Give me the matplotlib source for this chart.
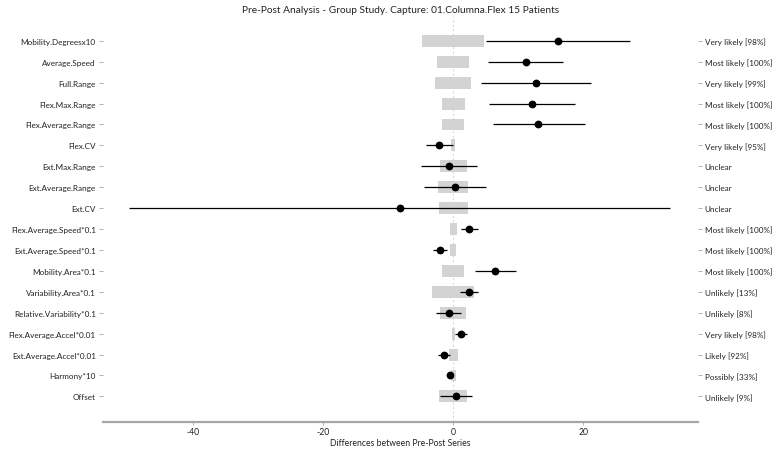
import matplotlib
matplotlib.use("Agg")
import matplotlib.pyplot as plt
import numpy as np

plt.rcParams['font.family'] = ['Lato', 'DejaVu Sans']

categories = ["Mobility.Degreesx10", "Average.Speed", "Full.Range", "Flex.Max.Range",
              "Flex.Average.Range", "Flex.CV", "Ext.Max.Range", "Ext.Average.Range", "Ext.CV",
              "Flex.Average.Speed*0.1", "Ext.Average.Speed*0.1", "Mobility.Area*0.1",
              "Variability.Area*0.1", "Relative.Variability*0.1", "Flex.Average.Accel*0.01",
              "Ext.Average.Accel*0.01", "Harmony*10", "Offset"]
swc = [4.75, 2.45, 2.75, 1.8, 1.72, 0.3, 2.1, 2.3, 2.2,
       0.53, 0.45, 1.72, 3.2, 2.0, 0.2, 0.7, 0.4, 2.15]
effect = [16.15, 11.2, 12.8, 12.15, 13.1, -2.15, -0.66, 0.3, -8.15,
          2.42, -2.0, 6.46, 2.36, -0.72, 1.23, -1.38, -0.45, 0.46]
ci_low = [5.1, 5.4, 4.2, 5.5, 6.1, -4.25, -4.97, -4.46, -49.85,
          1.13, -3.07, 3.3, 0.98, -2.67, 0.31, -2.3, -0.7, -2.1]
ci_high = [27.2, 16.9, 21.2, 18.7, 20.2, -0.1, 3.65, 5.03, 33.3,
           3.75, -1.03, 9.7, 3.85, 1.18, 2.15, -0.5, -0.2, 2.88]
outcomes = ["Very likely [98%]", "Most likely [100%]", "Very likely [99%]", "Most likely [100%]",
            "Most likely [100%]", "Very likely [95%]", "Unclear", "Unclear", "Unclear",
            "Most likely [100%]", "Most likely [100%]", "Most likely [100%]", "Unlikely [13%]",
            "Unlikely [8%]", "Very likely [98%]", "Likely [92%]", "Possibly [33%]", "Unlikely [9%]"]
x_ticks = [-40, -20, 0, 20]

fig = plt.figure(figsize=(7.77, 4.52), dpi=100)
ax = fig.add_axes([0.1322, 0.0648, 0.7658, 0.895])

n = len(categories)
y = np.arange(n)
sw = np.array(swc)
ax.barh(y, 2 * sw, left=-sw, height=0.57, color='#d3d3d3', zorder=1)
ax.axvline(0, color='#d9d9d9', lw=0.8, ls=(0, (2, 2)), zorder=0)
ax.hlines(y, ci_low, ci_high, color='black', lw=0.9, zorder=2)
ax.plot(effect, y, 'o', color='black', ms=4.6, zorder=3)

ax.set_xlim(-53.9, 37.6)
ax.set_ylim(18.21, -1.13)
ax.set_yticks(y)
ax.set_yticklabels(categories, fontsize=5.9, color='#222222')
ax.set_xticks(x_ticks)
ax.set_xticklabels([str(t) for t in x_ticks], fontsize=6.2, color='#222222')
ax.set_xlabel("Differences between Pre-Post Series", fontsize=6.2, color='#222222', labelpad=1)

for s in ['top', 'right', 'left']:
    ax.spines[s].set_visible(False)
ax.spines['bottom'].set_color('#a6a6a6')
ax.spines['bottom'].set_linewidth(1.6)
ax.tick_params(axis='y', length=3, width=0.6, color='#a6a6a6', pad=2)
ax.tick_params(axis='x', length=2, width=0.6, color='#a6a6a6', pad=2)

ax2 = ax.twinx()
ax2.set_ylim(ax.get_ylim())
ax2.set_yticks(y)
ax2.set_yticklabels(outcomes, fontsize=5.9, color='#222222')
for s in ['top', 'right', 'left', 'bottom']:
    ax2.spines[s].set_visible(False)
ax2.tick_params(axis='y', length=3, width=0.6, color='#a6a6a6', pad=2)

fig.text(0.515, 0.977, "Pre-Post Analysis - Group Study. Capture: 01.Columna.Flex 15 Patients",
         ha='center', va='center', fontsize=7.3, color='#222222')

fig.savefig("out.png", dpi=100)
